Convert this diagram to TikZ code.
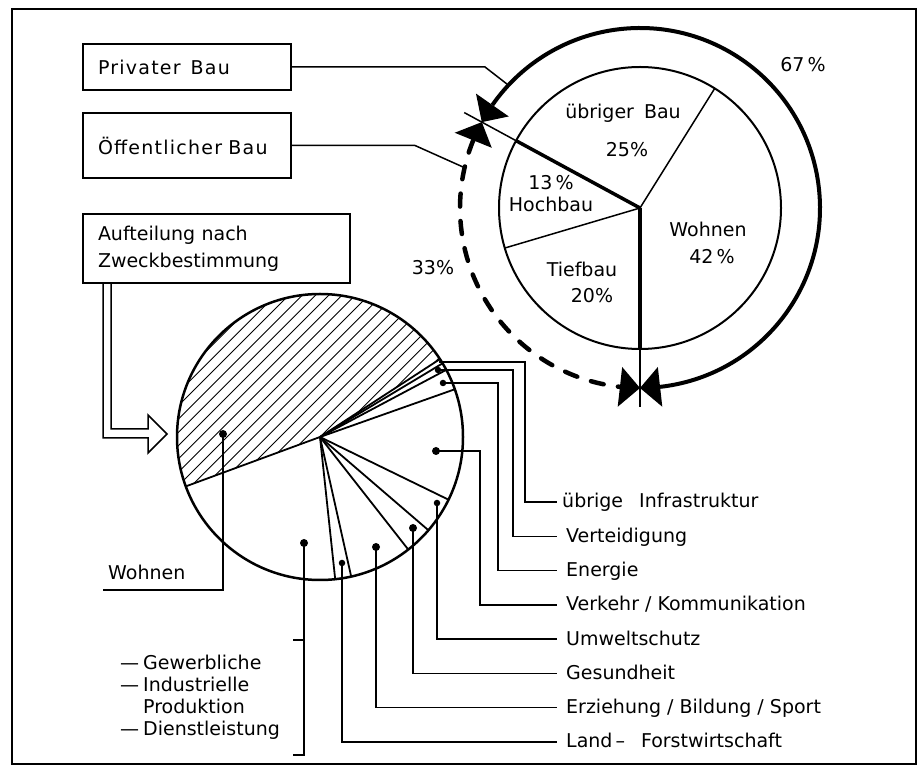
\documentclass[tikz,border=0pt]{standalone}
\usepackage{fontspec}
\setmainfont{DejaVu Sans}
\usetikzlibrary{calc}
\begin{document}
\begin{tikzpicture}[x=1pt,y=1pt,
  every node/.style={font=\fontsize{19}{27}\selectfont},
  lbl/.style={inner sep=0pt, anchor=base west},
  clbl/.style={inner sep=0pt, anchor=base},
  boxnode/.style={draw, line width=2pt, inner xsep=15pt, inner ysep=0pt, outer sep=0pt, anchor=north west, align=left},
  leader/.style={line width=1.5pt},
  dotmark/.style={circle, fill, inner sep=0pt, minimum size=6.5pt},
  bigdot/.style={circle, fill, inner sep=0pt, minimum size=8pt},
]
\useasboundingbox (0,0) rectangle (919,769);
% frame
\draw[line width=1.6pt] (12,5) rectangle (916,760);

% boxes
\node[boxnode, text width=178pt, minimum height=46pt] (priv) at (83,725)
  {\addfontfeatures{LetterSpace=6.5}Privater\hspace{10pt}Bau};
\node[boxnode, text width=178pt, minimum height=65pt] (oeff) at (83,656)
  {\addfontfeatures{LetterSpace=6.5}Öffentlicher Bau};
\node[boxnode, text width=237pt, minimum height=69pt] (auf) at (83,555)
  {Aufteilung nach\\Zweckbestimmung};

% ---------------- top pie ----------------
\coordinate (C) at (640,561);
\draw[line width=2pt] (C) circle (141);
\draw[line width=1.5pt] (C) -- ($(C)+(58:141)$);
\draw[line width=1.5pt] (C) -- ($(C)+(196.5:141)$);
\draw[line width=3.5pt] (C) -- ($(C)+(151.5:141)$);
\draw[line width=3.5pt] (C) -- ($(C)+(270:141)$);
\draw[line width=1.5pt] ($(C)+(151.5:141)$) -- ($(C)+(151.5:200)$);
\draw[line width=1.5pt] ($(C)+(270:141)$) -- ($(C)+(270:199)$);

% outer ring
\draw[line width=4pt] ($(C)+(-83.6:180)$) arc[start angle=-83.6, end angle=145.1, radius=180];
\draw[line width=4.5pt, dash pattern=on 13pt off 14.5pt, line cap=round]
  ($(C)+(157.9:180)$) arc[start angle=157.9, end angle=263.6, radius=180];
\fill ($(C)+(151.5:180)$) -- ($(C)+(145.1:200)$) -- ($(C)+(145.1:160)$) -- cycle;
\fill ($(C)+(151.5:180)$) -- ($(C)+(157.9:200)$) -- ($(C)+(157.9:160)$) -- cycle;
\fill ($(C)+(270:180)$) -- ($(C)+(-83.6:200)$) -- ($(C)+(-83.6:160)$) -- cycle;
\fill ($(C)+(270:180)$) -- ($(C)+(263.6:200)$) -- ($(C)+(263.6:160)$) -- cycle;

% connectors from the boxes
\coordinate (ringP) at ($(C)+(137:181)$);
\coordinate (ringO) at ($(C)+(167:181)$);
\draw[leader] (priv.east) -- ++(194,0) -- (ringP);
\draw[leader] (oeff.east) -- ++(124,0) -- (ringO);

% top pie labels
\node[clbl] (tUb) at (623,650) {übriger\hspace{10pt}Bau};
\node[clbl] (tUbp) at (627,612) {25\%};
\node[clbl] (tHp) at (551,579) {13\,\%};
\node[clbl] (tH) at (551,557) {Hochbau};
\node[clbl] (tW) at (708,532) {Wohnen};
\node[clbl] (tWp) at (712,505) {42\,\%};
\node[clbl] (tT) at (582,492) {Tiefbau};
\node[clbl] (tTp) at (592,466) {20\%};
\node[clbl] (t33) at (433,494) {33\%};
\node[clbl] (t67) at (803,697) {67\,\%};

% ---------------- hollow arrow ----------------
\draw[line width=1.5pt, line join=miter]
  ($(auf.south west)+(20,0)$) -- (103,331) -- (148,331) -- (148,316) -- (167,335)
  -- (148,354) -- (148,340) -- (111,340) -- ($(auf.south west)+(28,0)$);

% ---------------- bottom pie ----------------
\coordinate (B) at (320,332);
\begin{scope}
  \clip (B) -- ($(B)+(33:143)$) arc[start angle=33, end angle=200.2, radius=143] -- cycle;
  \foreach \k in {-32,...,32}
    \draw[line width=0.9pt] ($(B)+(\k*13.3-220,-220)$) -- ++(440,440);
\end{scope}
\draw[line width=2.5pt] (B) circle (143);
\foreach \a in {33,31,28,19.5,-26,-40.7,-51.9,-77.4,-83.9,200.2}
  \draw[line width=1.8pt] (B) -- ($(B)+(\a:143)$);

% dots
\coordinate (dI) at (439,407);
\node[dotmark] (dV) at (438,399) {};
\node[dotmark] (dE) at (443,386) {};
\node[bigdot] (dK) at (436,318) {};
\node[dotmark] (dU) at (437,266) {};
\node[bigdot] (dG) at (413,241) {};
\node[bigdot] (dS) at (376,222) {};
\node[dotmark] (dL) at (342,206) {};
\node[bigdot] (dP) at (304,226) {};
\node[bigdot] (dW) at (223,335) {};

% right labels
\node[lbl] (lI) at (562,261) {übrige\hspace{16pt}Infrastruktur};
\node[lbl] (lV) at (566,226.7) {Verteidigung};
\node[lbl] (lE) at (566,192.4) {Energie};
\node[lbl] (lK) at (566,158.1) {Verkehr / Kommunikation};
\node[lbl] (lU) at (566,123.9) {Umweltschutz};
\node[lbl] (lG) at (566,89.6) {Gesundheit};
\node[lbl] (lS) at (566,55.3) {Erziehung / Bildung / Sport};
\node[lbl] (lL) at (566,21) {Land\hspace{3pt}–\hspace{16pt}Forstwirtschaft};

% leaders
\draw[leader] (dI) -| (525,267) -- ($(lI.base west)+(-5,6)$);
\draw[leader] (dV.center) -| (513,232.7) -- ($(lV.base west)+(-9,6)$);
\draw[leader] (dE.center) -| (498,198.4) -- ($(lE.base west)+(-9,6)$);
\draw[leader] (dK.center) -| (480,164.1) -- ($(lK.base west)+(-9,6)$);
\draw[leader] (dU.center) |- ($(lU.base west)+(-9,6)$);
\draw[leader] (dG.center) |- ($(lG.base west)+(-9,6)$);
\draw[leader] (dS.center) |- ($(lS.base west)+(-9,6)$);
\draw[leader] (dL.center) |- ($(lL.base west)+(-9,6)$);

% Wohnen (bottom)
\node[lbl] (lW) at (108,189) {Wohnen};
\draw[leader] (dW.center) -- (223,179) -- (103,179);

% bracket
\draw[leader] (dP.center) -- (304,14) -- (293,14);
\draw[leader] (304,129) -- (293,129);
\node[lbl] (g1) at (120,99) {—\hspace{4pt}Gewerbliche};
\node[lbl] (g2) at (120,77) {—\hspace{4pt}Industrielle};
\node[lbl] (g3) at (120,56) {\phantom{—\hspace{4pt}}Produktion};
\node[lbl] (g4) at (120,34) {—\hspace{4pt}Dienstleistung};
\end{tikzpicture}
\end{document}
